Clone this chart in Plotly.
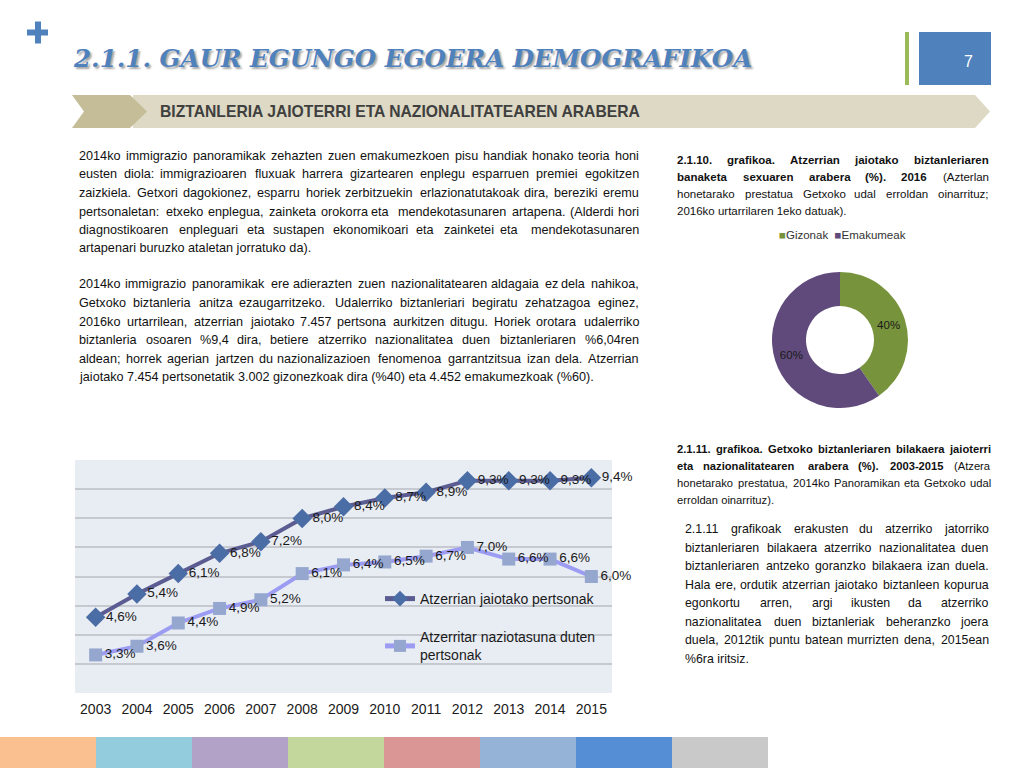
import plotly.graph_objects as go

W, H = 1024, 768
def X(p): return p / W
def Y(p): return 1 - p / H

# ---------------- data ----------------
years = ["2003", "2004", "2005", "2006", "2007", "2008", "2009",
         "2010", "2011", "2012", "2013", "2014", "2015"]
born_abroad = [4.6, 5.4, 6.1, 6.8, 7.2, 8.0, 8.4, 8.7, 8.9, 9.3, 9.3, 9.3, 9.4]
foreign_nat = [3.3, 3.6, 4.4, 4.9, 5.2, 6.1, 6.4, 6.5, 6.7, 7.0, 6.6, 6.6, 6.0]
series_names = ["Atzerrian jaiotako pertsonak", "Atzerritar naziotasuna duten<br>pertsonak"]

sex_labels = ["Gizonak", "Emakumeak"]
sex_counts = [3002, 4452]
sex_colors = ["#77933c", "#604a7b"]

footer_colors = ["#fac090", "#93cddd", "#b3a2c7", "#c3d69b",
                 "#d99694", "#95b3d7", "#558ed5", "#c9c9c9"]

title_text = "2.1.1. GAUR EGUNGO EGOERA DEMOGRAFIKOA"
banner_text = "BIZTANLERIA JAIOTERRI ETA NAZIONALITATEAREN ARABERA"
page_no = "7"

para1 = [
    "2014ko immigrazio panoramikak zehazten zuen emakumezkoen pisu handiak honako teoria honi",
    "eusten diola: immigrazioaren fluxuak harrera gizartearen enplegu esparruen premiei egokitzen",
    "zaizkiela. Getxori dagokionez, esparru horiek zerbitzuekin erlazionatutakoak dira, bereziki eremu",
    "pertsonaletan: etxeko enplegua, zainketa orokorra eta mendekotasunaren artapena. (Alderdi hori",
    "diagnostikoaren enpleguari eta sustapen ekonomikoari eta zainketei eta mendekotasunaren",
    "artapenari buruzko ataletan jorratuko da).",
]
para2 = [
    "2014ko immigrazio panoramikak ere adierazten zuen nazionalitatearen aldagaia ez dela nahikoa,",
    "Getxoko biztanleria anitza ezaugarritzeko. Udalerriko biztanleriari begiratu zehatzagoa eginez,",
    "2016ko urtarrilean, atzerrian jaiotako 7.457 pertsona aurkitzen ditugu. Horiek orotara udalerriko",
    "biztanleria osoaren %9,4 dira, betiere atzerriko nazionalitatea duen biztanleriaren %6,04ren",
    "aldean; horrek agerian jartzen du nazionalizazioen fenomenoa garrantzitsua izan dela. Atzerrian",
    "jaiotako 7.454 pertsonetatik 3.002 gizonezkoak dira (%40) eta 4.452 emakumezkoak (%60).",
]
caption1 = [
    ("2.1.10. grafikoa. Atzerrian jaiotako biztanleriaren", ""),
    ("banaketa sexuaren arabera (%). 2016", "(Azterlan"),
    ("", "honetarako prestatua Getxoko udal erroldan oinarrituz;"),
    ("", "2016ko urtarrilaren 1eko datuak)."),
]
caption2 = [
    ("2.1.11. grafikoa. Getxoko biztanleriaren bilakaera jaioterri", ""),
    ("eta nazionalitatearen arabera (%). 2003-2015", "(Atzera"),
    ("", "honetarako prestatua, 2014ko Panoramikan eta Getxoko udal"),
    ("", "erroldan oinarrituz)."),
]
para3 = [
    "2.1.11 grafikoak erakusten du atzerriko jatorriko",
    "biztanleriaren bilakaera atzerriko nazionalitatea duen",
    "biztanleriaren antzeko goranzko bilakaera izan duela.",
    "Hala ere, ordutik atzerrian jaiotako biztanleen kopurua",
    "egonkortu arren, argi ikusten da atzerriko",
    "nazionalitatea duen biztanleriak beheranzko joera",
    "duela, 2012tik puntu batean murrizten dena, 2015ean",
    "%6ra iritsiz.",
]

# ---------------- font metrics (Arial / Liberation Sans) ----------------
LC = "abcdefghijklmnopqrstuvwxyz"
UC = "ABCDEFGHIJKLMNOPQRSTUVWXYZ"
REG = dict(zip(LC, [556, 556, 500, 556, 556, 278, 556, 556, 222, 222, 500, 222, 833,
                    556, 556, 556, 556, 333, 500, 278, 556, 500, 722, 500, 500, 500]))
REG.update(zip(UC, [667, 667, 722, 722, 667, 611, 778, 722, 278, 500, 667, 556, 833,
                    722, 778, 667, 778, 722, 667, 611, 722, 667, 944, 667, 667, 611]))
REG.update({d: 556 for d in "0123456789"})
REG.update({" ": 278, ".": 278, ",": 278, ":": 278, ";": 278, "(": 333, ")": 333,
            "%": 889, "-": 333})
BOLD = dict(zip(LC, [556, 611, 556, 611, 556, 333, 611, 611, 278, 278, 556, 278, 889,
                     611, 611, 611, 611, 389, 556, 333, 611, 556, 778, 556, 556, 500]))
BOLD.update(zip(UC, [722, 722, 722, 722, 667, 611, 778, 722, 278, 556, 722, 611, 833,
                     722, 778, 667, 778, 722, 667, 611, 722, 667, 944, 667, 667, 611]))
BOLD.update({d: 556 for d in "0123456789"})
BOLD.update({" ": 278, ".": 278, ",": 278, ":": 333, ";": 333, "(": 333, ")": 333,
             "%": 889, "-": 333})
RENDER_F = 1.035  # rendered glyph runs come out slightly wider than nominal metrics

def tw(s, bold):
    tab = BOLD if bold else REG
    return RENDER_F * sum(tab.get(c, 556) for c in s) / 1000.0

SANS = "Liberation Sans"
TXT = "#111111"

annotations = []

def words_of(ln):
    segs = [(ln, False)] if isinstance(ln, str) else [(ln[0], True), (ln[1], False)]
    out = []
    for text, bold in segs:
        for w in text.split():
            out.append((w, bold))
    return out

def ann(x, y, text, anchor, size):
    annotations.append(dict(x=X(x), y=Y(y), xref="paper", yref="paper",
                            xanchor=anchor, yanchor="middle", text=text,
                            showarrow=False, borderpad=0,
                            font=dict(family=SANS, size=size, color=TXT)))

def add_par(lines, x0, x1, y0, dy, size):
    # shrink the size if needed so that every justified line keeps real word gaps
    for ln in lines[:-1]:
        wds = words_of(ln)
        em = sum(tw(w, b) for w, b in wds) + (len(wds) - 1) * 0.28
        size = min(size, (x1 - x0) / em)
    for i, ln in enumerate(lines):
        wds = words_of(ln)
        y = y0 + i * dy
        if i == len(lines) - 1 or len(wds) < 2:
            html = " ".join(f"<b>{w}</b>" if b else w for w, b in wds)
            ann(x0, y, html, "left", size)
            continue
        widths = [tw(w, b) * size for w, b in wds]
        gap = (x1 - x0 - sum(widths)) / (len(wds) - 1)
        x = x0
        n = len(wds)
        for k, (w, b) in enumerate(wds):
            t = f"<b>{w}</b>" if b else w
            if k < n / 2:
                ann(x, y, t, "left", size)
            else:
                ann(x + widths[k], y, t, "right", size)
            x += widths[k] + gap

add_par(para1, 78, 640, 156, 18.5, 12.7)
add_par(para2, 78, 640, 284.5, 18.5, 12.7)
add_par(caption1, 676, 990, 160, 17, 11.5)
add_par(caption2, 676, 992, 449, 17, 11.5)
add_par(para3, 684, 990, 529, 18.5, 13)

# title
annotations.append(dict(x=X(71), y=Y(58), xref="paper", yref="paper", xanchor="left",
                        yanchor="middle", text=f"<b><i>{title_text}</i></b>", showarrow=False,
                        font=dict(family="DejaVu Serif", size=24.6, color="#4f81bd",
                                  shadow="2px 2px 2px rgba(0,0,0,0.35)")))
# banner text
annotations.append(dict(x=X(158), y=Y(111), xref="paper", yref="paper", xanchor="left",
                        yanchor="middle", text=f"<b>{banner_text}</b>", showarrow=False,
                        font=dict(family=SANS, size=15.7, color="#3f3f3f")))
# page number
annotations.append(dict(x=X(968), y=Y(62), xref="paper", yref="paper", xanchor="center",
                        yanchor="middle", text=page_no, showarrow=False,
                        font=dict(family=SANS, size=16, color="white")))
# donut legend
annotations.append(dict(x=X(842), y=Y(235), xref="paper", yref="paper", xanchor="center",
                        yanchor="middle", showarrow=False,
                        text=(f'<span style="color:{sex_colors[0]}">■</span>{sex_labels[0]}'
                              f'  <span style="color:{sex_colors[1]}">■</span>{sex_labels[1]}'),
                        font=dict(family=SANS, size=11.5, color="#333333")))

# ---------------- shapes ----------------
def poly(pts, color):
    d = "M " + " L ".join(f"{X(a):.5f},{Y(b):.5f}" for a, b in pts) + " Z"
    return dict(type="path", xref="paper", yref="paper", path=d,
                fillcolor=color, line=dict(width=0), layer="below")

def rect(x0, y0, x1, y1, color):
    return dict(type="rect", xref="paper", yref="paper", x0=X(x0), x1=X(x1),
                y0=Y(y1), y1=Y(y0), fillcolor=color, line=dict(width=0), layer="below")

shapes = []
shapes.append(rect(27, 29.5, 48, 35.5, "#4f81bd"))
shapes.append(rect(35, 21.5, 41, 43.5, "#4f81bd"))
shapes.append(rect(905, 32, 909, 85, "#9bbb59"))
shapes.append(rect(919, 32, 991, 85, "#4f81bd"))
shapes.append(poly([(133, 95), (975, 95), (990, 111.5), (975, 128), (133, 128)], "#ddd9c4"))
shapes.append(poly([(72, 95), (130, 95), (147, 111.5), (130, 128), (72, 128), (84, 111.5)], "#c4bd97"))
for i, c in enumerate(footer_colors):
    shapes.append(rect(i * 96, 737, (i + 1) * 96, 768, c))

# ---------------- traces ----------------
def fmt(v):
    return f"{v:.1f}%".replace(".", ",")

fig = go.Figure()
fig.add_trace(go.Scatter(
    x=years, y=born_abroad, name=series_names[0], mode="lines+markers+text",
    text=[fmt(v) for v in born_abroad], textposition="middle right",
    textfont=dict(family=SANS, size=13.5, color="#1a1a1a"),
    line=dict(color="#5b5c91", width=4),
    marker=dict(symbol="diamond", size=15, color="#4b6da6"),
    cliponaxis=False, legendgroup="a", hoverinfo="skip"))
fig.add_trace(go.Scatter(
    x=years, y=foreign_nat, name=series_names[1], mode="lines+markers+text",
    text=[fmt(v) for v in foreign_nat], textposition="middle right",
    textfont=dict(family=SANS, size=13.5, color="#1a1a1a"),
    line=dict(color="#9b9cf2", width=4),
    marker=dict(symbol="square", size=13, color="#95a7cf"),
    cliponaxis=False, legendgroup="b", hoverinfo="skip"))
fig.add_trace(go.Pie(
    labels=sex_labels, values=sex_counts, hole=0.5, sort=False, direction="clockwise",
    rotation=0, marker=dict(colors=sex_colors, line=dict(width=0)),
    texttemplate="%{percent:.0%}", textposition="inside", insidetextorientation="horizontal",
    textfont=dict(family=SANS, size=11.5, color="#1a1a1a"),
    domain=dict(x=[X(772), X(908)], y=[Y(408), Y(272)]),
    showlegend=False, hoverinfo="skip"))

fig.update_layout(
    template="none", width=W, height=H, margin=dict(l=0, r=0, t=0, b=0),
    paper_bgcolor="white", plot_bgcolor="#e8ecf3",
    font=dict(family=SANS, color="#1a1a1a"),
    xaxis=dict(domain=[X(75), X(612)], type="category", range=[-0.5, 12.5],
               showgrid=False, showline=False, zeroline=False, ticks="",
               tickfont=dict(family=SANS, size=14, color="#1a1a1a"),
               ticklabelstandoff=6, fixedrange=True),
    yaxis=dict(domain=[Y(693), Y(460)], range=[1.99, 10.01], tick0=0, dtick=1,
               showgrid=True, gridcolor="#c6cad0", gridwidth=1.5,
               showticklabels=False, zeroline=False, ticks="", showline=False,
               fixedrange=True),
    showlegend=True,
    legend=dict(x=X(380), y=Y(583), xanchor="left", yanchor="top",
                bgcolor="rgba(0,0,0,0)", traceorder="grouped", tracegroupgap=17,
                itemsizing="constant",
                font=dict(family=SANS, size=14, color="#1a1a1a")),
    annotations=annotations, shapes=shapes,
)

fig.write_html("out.html", config={"displayModeBar": False},
               post_script="document.body.style.margin='0';document.body.style.overflow='hidden';")
